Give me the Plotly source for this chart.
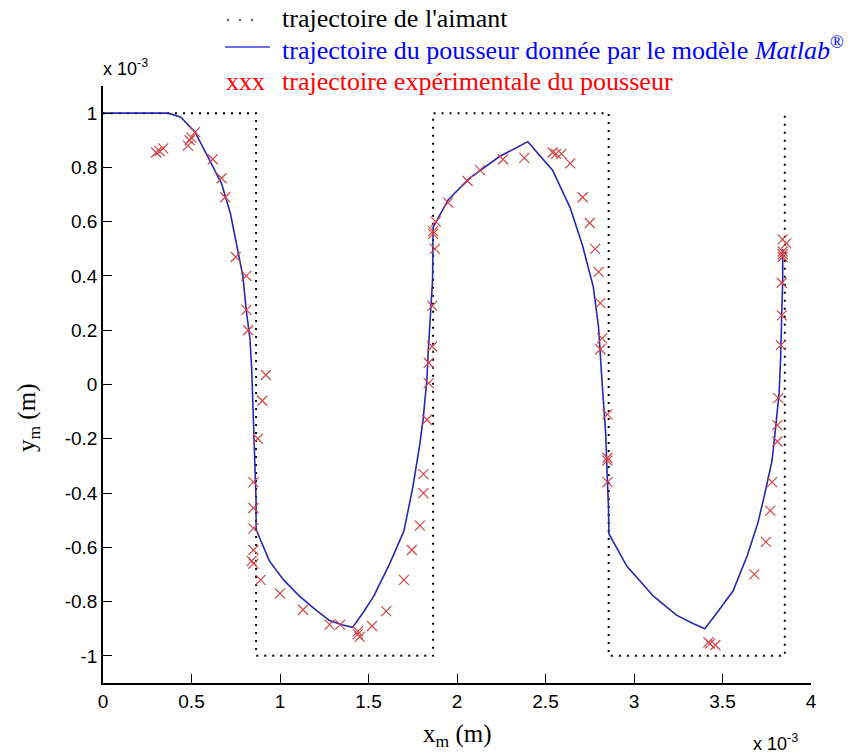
import plotly.graph_objects as go

# Values in units of 1e-3 m
magnet_x = [0.0, 0.865, 0.865, 1.865, 1.865, 2.857, 2.857, 3.852, 3.852]
magnet_y = [1.0, 1.0, -1.0, -1.0, 1.0, 1.0, -1.0, -1.0, 1.0]

model_x = [0.0, 0.37, 0.44, 0.52, 0.60, 0.67, 0.72, 0.76, 0.79, 0.81, 0.83, 0.84, 0.85, 0.86,
           0.865, 0.865, 0.94, 1.02, 1.11, 1.20, 1.28, 1.35, 1.41, 1.47, 1.53, 1.62, 1.70,
           1.75, 1.79, 1.81, 1.83, 1.84, 1.855, 1.862, 1.865, 1.95, 2.07, 2.24, 2.40, 2.54,
           2.64, 2.71, 2.77, 2.80, 2.82, 2.84, 2.85, 2.856, 2.858, 2.96, 3.11, 3.24, 3.33,
           3.40, 3.47, 3.56, 3.64, 3.70, 3.74, 3.78, 3.80, 3.82, 3.828, 3.835, 3.84, 3.84]
model_y = [1.0, 1.0, 0.985, 0.93, 0.83, 0.74, 0.63, 0.49, 0.40, 0.27, 0.17, 0.06, -0.12, -0.30,
           -0.43, -0.535, -0.65, -0.72, -0.78, -0.83, -0.87, -0.885, -0.895, -0.84, -0.78,
           -0.66, -0.54, -0.38, -0.22, -0.12, 0.02, 0.15, 0.30, 0.385, 0.58, 0.68, 0.76,
           0.84, 0.895, 0.79, 0.65, 0.51, 0.36, 0.21, 0.005, -0.18, -0.36, -0.45, -0.55,
           -0.67, -0.78, -0.85, -0.88, -0.90, -0.84, -0.76, -0.63, -0.51, -0.40, -0.28,
           -0.16, -0.03, 0.09, 0.26, 0.385, 0.50]

exp_x = [0.30, 0.32, 0.34, 0.48, 0.49, 0.50, 0.52, 0.62, 0.67, 0.69, 0.75, 0.81, 0.81, 0.82,
         0.92, 0.90, 0.875, 0.85, 0.85, 0.85, 0.85, 0.84, 0.85, 0.89, 1.00, 1.13, 1.28, 1.34,
         1.44, 1.44, 1.45, 1.52, 1.60, 1.70, 1.745, 1.79, 1.81, 1.81, 1.83, 1.84, 1.84, 1.86,
         1.86, 1.875, 1.865, 1.865, 1.88, 1.95, 2.06, 2.13, 2.26, 2.38, 2.54, 2.56, 2.59,
         2.64, 2.71, 2.75, 2.78, 2.80, 2.81, 2.82, 2.81, 2.85, 2.85, 2.85, 2.85, 3.42, 3.43,
         3.46, 3.68, 3.745, 3.77, 3.78, 3.81, 3.81, 3.815, 3.83, 3.835, 3.835, 3.84, 3.84,
         3.84, 3.84, 3.86]
exp_y = [0.855, 0.86, 0.87, 0.88, 0.90, 0.91, 0.93, 0.83, 0.76, 0.69, 0.47, 0.40, 0.275, 0.20,
         0.035, -0.06, -0.20, -0.36, -0.455, -0.53, -0.61, -0.65, -0.66, -0.72, -0.77, -0.83,
         -0.885, -0.885, -0.91, -0.92, -0.93, -0.89, -0.835, -0.72, -0.61, -0.52, -0.40,
         -0.33, -0.13, 0.005, 0.08, 0.14, 0.29, 0.50, 0.555, 0.565, 0.60, 0.67, 0.75, 0.79,
         0.83, 0.835, 0.855, 0.85, 0.85, 0.815, 0.69, 0.595, 0.50, 0.415, 0.30, 0.17, 0.13,
         -0.11, -0.27, -0.28, -0.36, -0.95, -0.955, -0.96, -0.70, -0.58, -0.465, -0.36,
         -0.21, -0.15, -0.05, 0.145, 0.255, 0.375, 0.47, 0.48, 0.49, 0.535, 0.52]

x_ticks = [0, 0.5, 1, 1.5, 2, 2.5, 3, 3.5, 4]
x_tick_labels = ["0", "0.5", "1", "1.5", "2", "2.5", "3", "3.5", "4"]
y_ticks = [-1, -0.8, -0.6, -0.4, -0.2, 0, 0.2, 0.4, 0.6, 0.8, 1]
y_tick_labels = ["-1", "-0.8", "-0.6", "-0.4", "-0.2", "0", "0.2", "0.4", "0.6", "0.8", "1"]

legend_labels = ["trajectoire de l'aimant",
                 "trajectoire du pousseur donnée par le modèle <i>Matlab</i><sup>®</sup>",
                 "trajectoire expérimentale du pousseur"]

fig = go.Figure()
fig.add_trace(go.Scatter(x=magnet_x, y=magnet_y, mode="lines",
                         line=dict(color="black", width=2, dash="2px,6px"),
                         showlegend=False, name=legend_labels[0]))
fig.add_trace(go.Scatter(x=model_x, y=model_y, mode="lines",
                         line=dict(color="rgb(40,40,175)", width=1.6),
                         showlegend=False, name=legend_labels[1]))
fig.add_trace(go.Scatter(x=exp_x, y=exp_y, mode="markers",
                         marker=dict(symbol="x-thin", size=10,
                                     line=dict(color="rgb(210,70,70)", width=1.2)),
                         showlegend=False, name=legend_labels[2]))

W, H = 856, 756
L, R, T, B = 103, 45, 86, 73
pw, ph = W - L - R, H - T - B

def px(xp):
    return (xp - L) / pw

def py(yp):
    return (H - B - yp) / ph

serif = "Liberation Serif"
sans = "Liberation Sans"
fs = 26

annotations = [
    dict(x=px(280), y=py(18), text=legend_labels[0], font=dict(family=serif, size=fs, color="black")),
    dict(x=px(280), y=py(48), text=legend_labels[1], font=dict(family=serif, size=fs, color="blue")),
    dict(x=px(280), y=py(81), text=legend_labels[2], font=dict(family=serif, size=fs, color="red")),
    dict(x=px(224), y=py(81), text="xxx", font=dict(family=serif, size=fs, color="red")),
    dict(x=px(101), y=py(67), text="x 10<sup>-3</sup>", font=dict(family=sans, size=18, color="black")),
    dict(x=px(751), y=py(742), text="x 10<sup>-3</sup>", font=dict(family=sans, size=18, color="black")),
    dict(x=px(457), y=py(735), text="x<sub>m</sub> (m)", xanchor="center",
         font=dict(family=serif, size=25, color="black")),
    dict(x=px(28), y=py(418), text="y<sub>m</sub> (m)", xanchor="center", textangle=-90,
         font=dict(family=serif, size=25, color="black")),
]
for a in annotations:
    a.setdefault("xanchor", "left")
    a.update(xref="paper", yref="paper", yanchor="middle", showarrow=False)

shapes = [
    dict(type="line", xref="paper", yref="paper", x0=px(225), x1=px(270), y0=py(47), y1=py(47),
         line=dict(color="rgb(60,60,220)", width=1.6)),
    dict(type="line", xref="paper", yref="paper", x0=px(227), x1=px(255), y0=py(20), y1=py(20),
         line=dict(color="rgb(90,90,90)", width=2, dash="2px,10px")),
]

fig.update_layout(
    width=W, height=H,
    margin=dict(l=L, r=R, t=T, b=B),
    paper_bgcolor="white", plot_bgcolor="white",
    annotations=annotations, shapes=shapes,
    xaxis=dict(range=[0, 4], tickvals=x_ticks, ticktext=x_tick_labels,
               ticks="inside", ticklen=9, tickwidth=1.3, tickcolor="black",
               showline=True, linecolor="black", linewidth=1.5, mirror=False,
               showgrid=False, zeroline=False,
               tickfont=dict(family=sans, size=19, color="black")),
    yaxis=dict(range=[-1.1, 1.1], tickvals=y_ticks, ticktext=y_tick_labels,
               ticks="inside", ticklen=9, tickwidth=1.3, tickcolor="black",
               showline=True, linecolor="black", linewidth=1.5, mirror=False,
               showgrid=False, zeroline=False,
               tickfont=dict(family=sans, size=19, color="black")),
)

fig.write_html("out.html", config={"displayModeBar": False},
               post_script="document.body.style.margin='0';")
